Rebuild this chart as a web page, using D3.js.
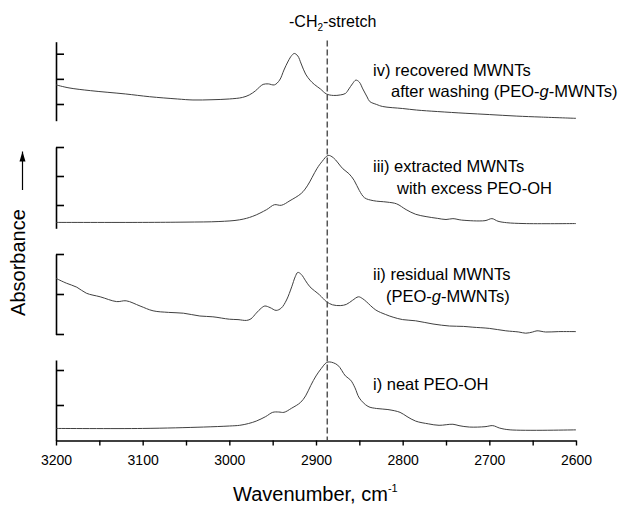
<!DOCTYPE html>
<html>
<head>
<meta charset="utf-8">
<script src="https://cdn.jsdelivr.net/npm/d3@7"></script>
<style>
  html, body { margin: 0; padding: 0; background: #fff; }
  svg { display: block; font-family: "Liberation Sans", Arial, Helvetica, sans-serif; }
</style>
</head>
<body>
<svg id="chart" width="623" height="505"></svg>
<script>
// FTIR spectra in the C–H stretching region (wavenumber in cm^-1, absorbance in a.u.)

// i) neat PEO-OH
const specI_wn  = [3200,3100,3030,3000,2988,2978,2969,2958,2950,2943,2937,2928,2918,2912,2906,2900,2894,2888,2884,2875,2866,2860,2855,2850,2840,2830,2817,2803,2795,2785,2770,2758,2742,2735,2723,2705,2696,2688,2676,2600];
const specI_abs = [0.033,0.033,0.037,0.040,0.042,0.047,0.054,0.067,0.079,0.080,0.079,0.091,0.107,0.126,0.156,0.183,0.204,0.221,0.223,0.214,0.183,0.171,0.149,0.120,0.096,0.090,0.087,0.079,0.067,0.054,0.046,0.042,0.045,0.041,0.037,0.038,0.041,0.034,0.029,0.029];

// ii) residual MWNTs (PEO-g-MWNTs)
const specII_wn  = [3200,3188,3176,3165,3149,3130,3119,3103,3088,3070,3053,3034,3019,3000,2990,2980,2975,2969,2963,2959,2953,2946,2940,2934,2928,2924,2921,2917,2912,2907,2896,2888,2881,2872,2865,2858,2851,2846,2842,2831,2820,2811,2800,2785,2765,2746,2730,2719,2700,2681,2666,2658,2650,2645,2635,2620,2600];
const specII_abs = [0.239,0.227,0.217,0.202,0.193,0.181,0.183,0.170,0.158,0.154,0.152,0.145,0.143,0.137,0.136,0.134,0.138,0.152,0.165,0.170,0.166,0.159,0.165,0.185,0.218,0.243,0.254,0.249,0.233,0.218,0.198,0.181,0.173,0.171,0.174,0.184,0.193,0.188,0.181,0.160,0.149,0.142,0.136,0.133,0.125,0.120,0.119,0.117,0.114,0.108,0.105,0.102,0.105,0.108,0.105,0.106,0.106];

// iii) extracted MWNTs with excess PEO-OH
const specIII_wn  = [3200,3100,3050,3012,2988,2973,2957,2948,2940,2930,2917,2910,2899,2893,2886,2880,2869,2862,2856,2850,2844,2834,2818,2807,2796,2785,2773,2760,2750,2742,2732,2705,2697,2690,2680,2660,2600];
const specIII_abs = [0.040,0.040,0.041,0.043,0.049,0.061,0.084,0.101,0.099,0.115,0.140,0.166,0.225,0.250,0.271,0.263,0.225,0.208,0.185,0.150,0.125,0.115,0.110,0.104,0.084,0.068,0.060,0.054,0.050,0.053,0.048,0.046,0.053,0.044,0.039,0.036,0.036];

// iv) recovered MWNTs after washing (PEO-g-MWNTs)
const specIV_wn  = [3200,3185,3160,3120,3092,3060,3042,3020,3000,2985,2977,2970,2965,2961,2955,2948,2942,2937,2932,2928,2925,2921,2917,2912,2907,2902,2895,2888,2880,2872,2866,2862,2858,2854,2850,2846,2841,2838,2830,2823,2800,2784,2760,2727,2700,2669,2640,2600];
const specIV_abs = [0.176,0.164,0.153,0.140,0.129,0.120,0.116,0.117,0.120,0.126,0.136,0.152,0.168,0.178,0.180,0.176,0.195,0.235,0.271,0.293,0.301,0.291,0.259,0.219,0.195,0.178,0.160,0.140,0.134,0.136,0.142,0.160,0.180,0.195,0.187,0.160,0.128,0.110,0.098,0.090,0.082,0.076,0.070,0.063,0.058,0.052,0.048,0.043];

// axis ticks
const xDomain      = [3200, 2600];
const xMajorTicks  = [3200, 3100, 3000, 2900, 2800, 2700, 2600];
const xMinorTicks  = [3150, 3050, 2950, 2850, 2750, 2650];
const markerWn     = 2887;   // -CH2- stretch position

const svg = d3.select("#chart");

const x = d3.scaleLinear().domain(xDomain).range([56, 576]);

// stacked panels: pixel layout of each offset spectrum
const panels = [
  { wn: specIV_wn,  abs: specIV_abs,  ticks: [0.1, 0.2, 0.3], tickPx: [104, 53.7],  axisPx: [120.7, 41.7],
    label: [{ x: 373, y: 76, parts: [["iv) recovered MWNTs"]] },
            { x: 391, y: 97, parts: [["after washing (PEO-"], ["g", true], ["-MWNTs)"]] }] },
  { wn: specIII_wn, abs: specIII_abs, ticks: [0.1, 0.2, 0.3], tickPx: [205, 147],   axisPx: [228.3, 147],
    label: [{ x: 373, y: 171.5, parts: [["iii) extracted MWNTs"]] },
            { x: 397, y: 193.5, parts: [["with excess PEO-OH"]] }] },
  { wn: specII_wn,  abs: specII_abs,  ticks: [0.1, 0.2, 0.3], tickPx: [334, 254],   axisPx: [334.5, 254],
    label: [{ x: 373, y: 279.5, parts: [["ii) residual MWNTs"]] },
            { x: 386, y: 301.5, parts: [["(PEO-"], ["g", true], ["-MWNTs)"]] }] },
  { wn: specI_wn,   abs: specI_abs,   ticks: [0.1, 0.2],      tickPx: [405, 370],   axisPx: [440.5, 360],
    label: [{ x: 373, y: 390, parts: [["i) neat PEO-OH"]] }] }
];

// dashed marker line for the -CH2- stretch
svg.append("line")
  .attr("x1", x(markerWn)).attr("x2", x(markerWn))
  .attr("y1", 40.5).attr("y2", 440)
  .attr("stroke", "#555").attr("stroke-width", 1.5)
  .attr("stroke-dasharray", "6,3");

const line = d3.line().curve(d3.curveCatmullRom.alpha(0.5));

panels.forEach(p => {
  const t0 = p.ticks[0], t1 = p.ticks[p.ticks.length - 1];
  const ref = d3.scaleLinear().domain([t0, t1]).range(p.tickPx);
  const y = d3.scaleLinear()
    .domain([ref.invert(p.axisPx[0]), ref.invert(p.axisPx[1])])
    .range(p.axisPx);

  // left bracket axis with inward ticks
  const ax = svg.append("g")
    .attr("transform", "translate(56,0)")
    .call(d3.axisRight(y).tickValues(p.ticks).tickSize(8).tickSizeOuter(0).tickFormat(""));
  ax.select(".domain").attr("stroke", "#000").attr("stroke-width", 1.6);
  ax.selectAll(".tick line").attr("stroke", "#000").attr("stroke-width", 1.6);

  const pts = p.wn.map((w, i) => [x(w), y(p.abs[i])]);
  svg.append("path")
    .attr("d", line(pts))
    .attr("fill", "none")
    .attr("stroke", "#404040")
    .attr("stroke-width", 1);

  p.label.forEach(l => {
    const t = svg.append("text")
      .attr("x", l.x).attr("y", l.y)
      .attr("font-size", 16.5).attr("fill", "#000");
    l.parts.forEach(([s, it]) => {
      t.append("tspan").text(s).attr("font-style", it ? "italic" : null);
    });
  });
});

// x axis
const xa = svg.append("g")
  .attr("transform", "translate(0,440.5)")
  .call(d3.axisBottom(x)
    .tickValues(xMajorTicks.concat(xMinorTicks))
    .tickSize(5).tickSizeOuter(0).tickPadding(9.5)
    .tickFormat(d => xMajorTicks.includes(d) ? d : ""));
xa.select(".domain").attr("stroke", "#000").attr("stroke-width", 1.4);
xa.selectAll(".tick line").attr("stroke", "#000").attr("stroke-width", 1.4);
xa.selectAll(".tick text")
  .attr("font-size", 14).attr("fill", "#000")
  .attr("font-family", "'Liberation Sans', Arial, sans-serif");

// x axis title
const xt = svg.append("text")
  .attr("x", 233).attr("y", 501)
  .attr("font-size", 20).attr("fill", "#000");
xt.append("tspan").text("Wavenumber, cm");
xt.append("tspan").text("-1").attr("font-size", 11).attr("dy", -9);

// y axis title with upward arrow
svg.append("text")
  .attr("transform", "translate(25,262.5) rotate(-90)")
  .attr("text-anchor", "middle")
  .attr("font-size", 20).attr("fill", "#000")
  .text("Absorbance");

svg.append("defs").append("marker")
  .attr("id", "arrowHead")
  .attr("viewBox", "0 0 10 10")
  .attr("refX", 10).attr("refY", 5)
  .attr("markerWidth", 10).attr("markerHeight", 10)
  .attr("markerUnits", "userSpaceOnUse")
  .attr("orient", "auto")
  .append("path").attr("d", "M0,2 L10,5 L0,8 Z").attr("fill", "#000");

svg.append("line")
  .attr("x1", 22.5).attr("x2", 22.5)
  .attr("y1", 190).attr("y2", 151.5)
  .attr("stroke", "#000").attr("stroke-width", 1.2)
  .attr("marker-end", "url(#arrowHead)");

// marker title: -CH2-stretch
const tt = svg.append("text")
  .attr("x", 289).attr("y", 27.3)
  .attr("font-size", 16).attr("fill", "#000");
tt.append("tspan").text("-CH");
tt.append("tspan").text("2").attr("font-size", 10).attr("dy", 4);
tt.append("tspan").text("-stretch").attr("dy", -4);
</script>
</body>
</html>
